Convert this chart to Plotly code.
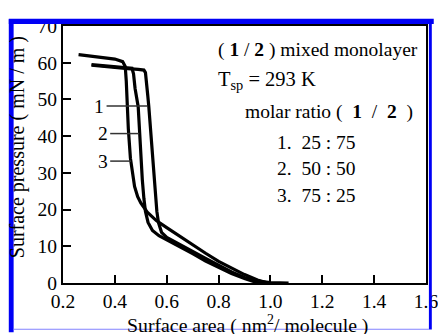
import plotly.graph_objects as go

# ---- data ----
c1_x = [0.31, 0.35, 0.40, 0.45, 0.49, 0.512, 0.518, 0.522, 0.527, 0.531, 0.54, 0.548, 0.555, 0.562, 0.568,
        0.58, 0.60, 0.65, 0.70, 0.75, 0.80, 0.85, 0.90, 0.95, 1.00, 1.07]
c1_y = [59.3, 59.0, 58.7, 58.4, 58.2, 58.0, 57.3, 55.0, 51.0, 48.0, 40.0, 31.0, 25.0, 19.5, 16.5,
        13.8, 12.4, 10.6, 8.6, 6.7, 4.8, 3.0, 1.5, 0.5, 0.1, 0.0]

c2_x = [0.31, 0.35, 0.40, 0.44, 0.466, 0.472, 0.478, 0.49, 0.499, 0.506, 0.512, 0.518, 0.528, 0.545,
        0.57, 0.60, 0.65, 0.70, 0.75, 0.80, 0.85, 0.90, 0.94, 0.965]
c2_y = [59.5, 59.2, 58.9, 58.7, 58.5, 57.0, 53.0, 48.0, 35.0, 28.0, 23.0, 19.5, 16.5, 14.3,
        12.9, 11.8, 10.0, 8.0, 6.0, 4.2, 2.6, 1.2, 0.3, 0.0]

c3_x = [0.26, 0.30, 0.35, 0.40, 0.43, 0.440, 0.444, 0.447, 0.452, 0.460, 0.468, 0.476, 0.488, 0.500,
        0.525, 0.56, 0.60, 0.65, 0.70, 0.75, 0.80, 0.85, 0.90, 0.95, 0.99]
c3_y = [62.2, 61.9, 61.5, 61.0, 60.3, 59.0, 55.0, 48.0, 42.0, 34.0, 29.5, 26.3, 23.5, 21.8,
        19.3, 17.0, 15.1, 12.7, 10.4, 8.1, 5.9, 4.0, 2.3, 0.8, 0.0]

x_ticks = [0.2, 0.4, 0.6, 0.8, 1.0, 1.2, 1.4, 1.6]
x_tick_text = ["0.2", "0.4", "0.6", "0.8", "1.0", "1.2", "1.4", "1.6"]
y_ticks = [0, 10, 20, 30, 40, 50, 60, 70]
y_tick_text = ["0", "10", "20", "30", "40", "50", "60", "70"]

curve_labels = ["1", "2", "3"]
NB = "\u00a0"
legend_lines = ["1." + NB * 2 + "25 : 75", "2." + NB * 2 + "50 : 50", "3." + NB * 2 + "75 : 25"]

SERIF = "Liberation Serif, Times New Roman, serif"
FS = 19.5   # tick labels
FT = 19.5   # text block
FL = 19.5   # ratio list
FA = 19.8   # axis titles

fig = go.Figure()
for xs, ys in [(c1_x, c1_y), (c2_x, c2_y), (c3_x, c3_y)]:
    fig.add_trace(go.Scatter(x=xs, y=ys, mode="lines", line=dict(color="black", width=3.2),
                             showlegend=False, hoverinfo="skip"))

# curve pointer labels: "1 ——" etc.
ptr = [(0.368, 0.525, 48.2), (0.382, 0.494, 40.7), (0.382, 0.462, 33.2)]
for lab, (xa, xb, yv) in zip(curve_labels, ptr):
    fig.add_shape(type="line", x0=xa, x1=xb, y0=yv, y1=yv, xref="x", yref="y",
                  line=dict(color="#333333", width=1.5))
    fig.add_annotation(x=xa - 0.002, y=yv, xref="x", yref="y", text=lab, showarrow=False,
                       xanchor="right", yanchor="middle", font=dict(family=SERIF, size=FL, color="black"))

# page pixel -> paper fraction (plot area spans page px 63..438, 17..283)
def px2x(px):
    return (px - 63) / 375.0

def py2y(py):
    return (283 - py) / 266.0

ratio_txt = ("molar ratio (" + NB * 2 + "<b>1</b>" + NB * 2 + "/" + NB * 2 + "<b>2</b>" + NB * 2 + ")")
texts = [
    ("( <b>1</b> / <b>2</b> ) mixed monolayer", 221, 42, FT),
    ("T<sub>sp</sub> = 293 K", 221, 73, 20.5),
    (ratio_txt, 249, 106, FT),
    (legend_lines[0], 282, 138, FL),
    (legend_lines[1], 282, 165, FL),
    (legend_lines[2], 282, 192, FL),
]
for t, px, py, fs in texts:
    fig.add_annotation(x=px2x(px), y=py2y(py), xref="paper", yref="paper", text=t, showarrow=False,
                       xanchor="left", yanchor="middle", font=dict(family=SERIF, size=fs, color="black"))

# axis titles
fig.add_annotation(x=px2x(16), y=py2y(143), xref="paper", yref="paper",
                   text="Surface pressure ( mN / m )", textangle=-90, showarrow=False,
                   xanchor="center", yanchor="middle", font=dict(family=SERIF, size=20, color="black"))
fig.add_annotation(x=px2x(254), y=py2y(326), xref="paper", yref="paper",
                   text="Surface area ( nm<sup>2</sup>/ molecule )", showarrow=False,
                   xanchor="center", yanchor="middle", font=dict(family=SERIF, size=FA, color="black"))

# blue frame around the picture
blue = "rgb(0,0,245)"
fig.add_shape(type="rect", xref="paper", yref="paper", x0=px2x(7), x1=px2x(12), y0=py2y(334), y1=py2y(10),
              fillcolor=blue, line=dict(width=0), layer="above")
fig.add_shape(type="rect", xref="paper", yref="paper", x0=px2x(7), x1=px2x(446), y0=py2y(15), y1=py2y(9.5),
              fillcolor=blue, line=dict(width=0), layer="above")
fig.add_shape(type="rect", xref="paper", yref="paper", x0=px2x(441), x1=px2x(444), y0=py2y(331), y1=py2y(10),
              fillcolor=blue, line=dict(width=0), layer="above")
fig.add_shape(type="rect", xref="paper", yref="paper", x0=px2x(12), x1=px2x(441), y0=py2y(331.5), y1=py2y(330.3),
              fillcolor="rgb(130,130,255)", line=dict(width=0), layer="above")

axis_common = dict(showgrid=False, zeroline=False, showline=True, linecolor="black", linewidth=2,
                   mirror=True, ticks="inside", ticklen=8, tickwidth=2, tickcolor="black",
                   ticklabeloverflow="allow",
                   tickfont=dict(family=SERIF, size=FS, color="black"))
fig.update_xaxes(range=[0.2, 1.600001], tickvals=x_ticks, ticktext=x_tick_text, **axis_common)
fig.update_yaxes(range=[0, 70.00001], tickvals=y_ticks, ticktext=y_tick_text, **axis_common)

# page body has an 8px margin, so the figure is 8px smaller and offset
fig.update_layout(width=438, height=326, margin=dict(l=55, r=8, t=9, b=51),
                  paper_bgcolor="white", plot_bgcolor="white", showlegend=False)

fig.write_html("out.html")
